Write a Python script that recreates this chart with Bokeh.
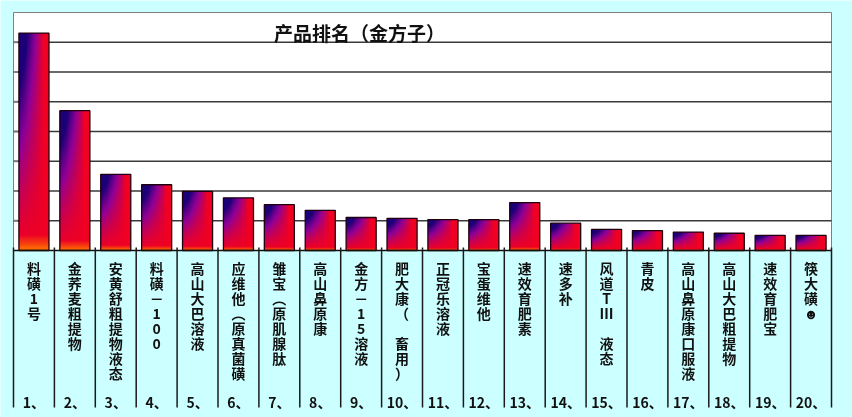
import numpy as np
from bokeh.plotting import figure
from bokeh.models import Range1d
from bokeh.core.properties import value
from bokeh.embed import file_html
from bokeh.resources import INLINE

# ---------------- data ----------------
categories = ["料磺1号", "金荞麦粗提物", "安黄舒粗提物液态", "料磺－100", "高山大巴溶液",
              "应维他︵原真菌磺", "雏宝︵原肌腺肽", "高山鼻原康", "金方－15溶液", "肥大康（ 畜用）",
              "正冠乐溶液", "宝蛋维他", "速效育肥素", "速多补", "风道TⅢ 液态",
              "青皮", "高山鼻原康口服液", "高山大巴粗提物", "速效育肥宝", "筷大磺☻"]
rank_labels = ["1、", "2、", "3、", "4、", "5、", "6、", "7、", "8、", "9、", "10、",
               "11、", "12、", "13、", "14、", "15、", "16、", "17、", "18、", "19、", "20、"]
values = [7.31, 4.70, 2.56, 2.21, 1.99, 1.77, 1.54, 1.35, 1.11, 1.08,
          1.04, 1.04, 1.61, 0.92, 0.71, 0.67, 0.62, 0.58, 0.51, 0.51]
y_ticks = [1, 2, 3, 4, 5, 6, 7, 8]
title_text = "产品排名（金方子）"

# ---------------- layout constants (pixels) ----------------
W, H = 852, 417
X0 = 13.0      # left edge of chart area
CW = 40.9      # width of one category
Y0 = 250.0     # baseline pixel row
UH = 29.75     # pixels per value unit

def py(pix):   # pixel row -> data y
    return (Y0 - pix) / UH

def px(pix):   # pixel column -> data x
    return (pix - X0) / CW

CYAN = "#ccffff"
FONT = "Noto Sans CJK SC"
n = len(categories)

p = figure(width=W, height=H,
           x_range=Range1d(px(0), px(W)), y_range=Range1d(py(H), py(0)),
           x_axis_type=None, y_axis_type=None, toolbar_location=None,
           output_backend="svg", min_border=0,
           background_fill_color=CYAN, border_fill_color=CYAN,
           outline_line_color=None,
           styles={"position": "fixed", "left": "0px", "top": "0px"})

top = max(y_ticks)
# white chart area
p.quad(left=[0], right=[n], bottom=[0], top=[top], fill_color="white",
       line_color="#7f7f7f", line_width=1)
# gridlines
p.segment(x0=[0] * (len(y_ticks) - 1), x1=[n] * (len(y_ticks) - 1),
          y0=y_ticks[:-1], y1=y_ticks[:-1], line_color="#3a3a3a", line_width=1.6)
# small inside ticks on the left edge
p.segment(x0=[0] * (len(y_ticks) - 1), x1=[px(X0 + 4)] * (len(y_ticks) - 1),
          y0=y_ticks[:-1], y1=y_ticks[:-1], line_color="#808080", line_width=2)

# gradient image for bars
def bar_gradient(w=32, h=240):
    u = np.linspace(0, 1, w)[None, :]
    v = np.linspace(0, 1, h)[:, None]
    s = np.clip((v ** 1.4) * (1.5 - 1.8 * u), 0, 1)[..., None]
    red = np.array([240, 0, 35], dtype=float)
    purple = np.array([145, 0, 150], dtype=float)
    blue = np.array([28, 0, 120], dtype=float)
    lo = np.clip(s / 0.5, 0, 1)
    hi = np.clip((s - 0.5) / 0.5, 0, 1)
    rgb = np.where(s < 0.5, red * (1 - lo) + purple * lo, purple * (1 - hi) + blue * hi)
    orange = np.array([255, 115, 0], dtype=float)
    wgt = np.clip((0.07 - v) / 0.07, 0, 1)[..., None] * np.ones((1, w, 1))
    rgb = rgb * (1 - wgt) + orange * wgt
    img = np.zeros((h, w), dtype=np.uint32)
    view = img.view(dtype=np.uint8).reshape((h, w, 4))
    view[..., :3] = np.clip(rgb, 0, 255).astype(np.uint8)
    view[..., 3] = 255
    return img

BW = 0.735
grad = bar_gradient()
centers = [i + 0.5 for i in range(n)]
p.image_rgba(image=[grad] * n, x=[c - BW / 2 for c in centers], y=[0] * n,
             dw=[BW] * n, dh=values)
p.vbar(x=centers, width=BW, bottom=0, top=values, fill_color=None,
       line_color="#200010", line_width=1.3)

# baseline and separators
p.segment(x0=[0], x1=[n], y0=[0], y1=[0], line_color="#111111", line_width=1.6)
bounds = list(range(n + 1))
p.segment(x0=bounds, x1=bounds, y0=[py(247)] * (n + 1), y1=[py(407)] * (n + 1),
          line_color="#1a1a1a", line_width=1.5)

# vertical category labels
p.text(x=centers, y=[py(257)] * n, text=["\n".join(list(c)) for c in categories],
       text_font=value(FONT), text_font_style="bold", text_font_size="14px",
       text_align="center", text_baseline="top", text_line_height=0.75,
       text_color="#111111")
# rank numbers
p.text(x=centers, y=[py(401)] * n, text=rank_labels,
       text_font=value(FONT), text_font_style="bold", text_font_size="14px",
       text_align="center", text_baseline="middle", text_color="#111111")
# title
p.text(x=[px(359)], y=[py(32)], text=[title_text],
       text_font=value(FONT), text_font_style="bold", text_font_size="19px",
       text_align="center", text_baseline="middle", text_color="#111111")

open("out.html", "w").write(file_html(p, INLINE))
